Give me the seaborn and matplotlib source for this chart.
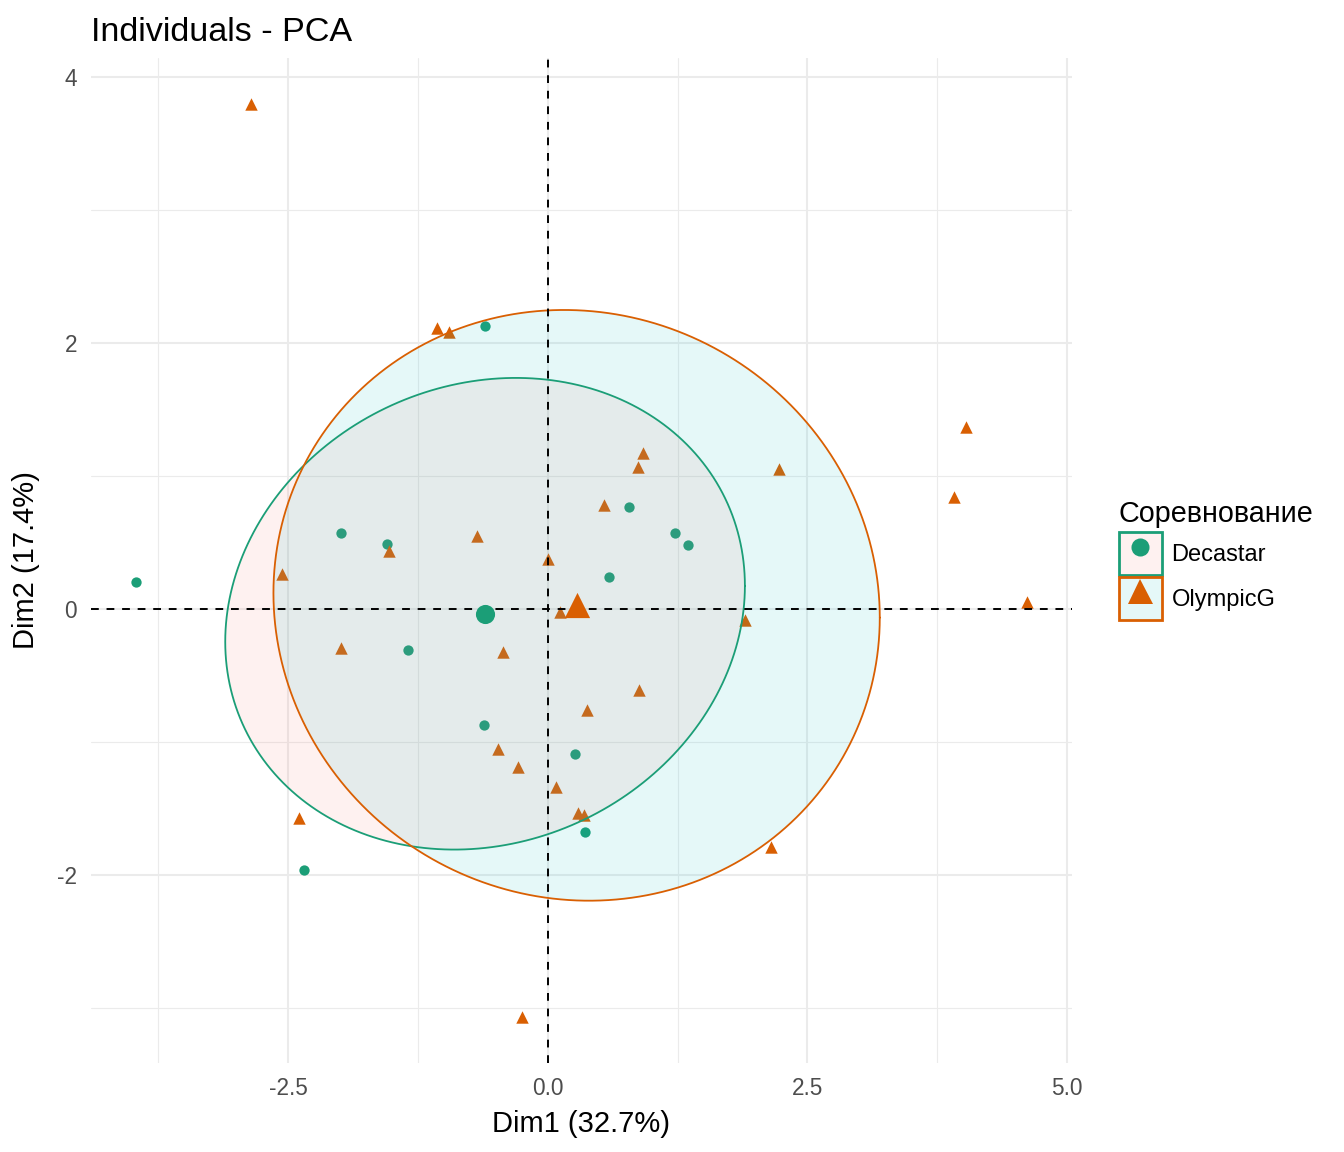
import numpy as np
import pandas as pd
import matplotlib
matplotlib.use('Agg')
import matplotlib.pyplot as plt
import seaborn as sns
from matplotlib.patches import Rectangle
from matplotlib.lines import Line2D
from matplotlib.legend_handler import HandlerTuple

# Координаты индивидов (Dim1, Dim2)
decastar_dim1 = [-3.97, -0.60, -1.99, -1.55, -1.35, -2.35, -0.61, 0.26, 0.36, 0.59, 0.78, 1.23, 1.35]
decastar_dim2 = [0.20, 2.13, 0.57, 0.49, -0.31, -1.96, -0.87, -1.09, -1.68, 0.24, 0.77, 0.57, 0.48]

olympic_dim1 = [-2.86, -1.07, -0.95, 4.03, 3.91, 2.23, 0.92, 0.87, 0.54, -0.68, 0.00, -1.53, -2.56, 4.62,
                1.90, 0.12, -1.99, -0.43, 0.88, 0.38, -0.48, -0.29, 0.08, 0.29, 0.35, -2.40, 2.15, -0.25]
olympic_dim2 = [3.80, 2.11, 2.08, 1.37, 0.84, 1.05, 1.17, 1.07, 0.78, 0.55, 0.38, 0.44, 0.26, 0.05,
                -0.08, -0.02, -0.29, -0.32, -0.61, -0.76, -1.05, -1.19, -1.34, -1.53, -1.55, -1.57, -1.79, -3.07]

groups = ['Decastar', 'OlympicG']
line_colors = {'Decastar': '#1B9E77', 'OlympicG': '#D95F02'}
fill_colors = {'Decastar': '#F8766D', 'OlympicG': '#00BFC4'}
markers = {'Decastar': 'o', 'OlympicG': '^'}
point_size = {'Decastar': 55, 'OlympicG': 80}
mean_size = {'Decastar': 190, 'OlympicG': 330}

df = pd.DataFrame({
    'Dim1': decastar_dim1 + olympic_dim1,
    'Dim2': decastar_dim2 + olympic_dim2,
    'Competition': ['Decastar'] * len(decastar_dim1) + ['OlympicG'] * len(olympic_dim1),
})


def norm_ellipse(x, y, level=0.68, segments=240):
    # как stat_ellipse(type = "norm")
    pts = np.column_stack([x, y])
    n = len(pts)
    center = pts.mean(axis=0)
    chol = np.linalg.cholesky(np.cov(pts, rowvar=False)).T
    d = n - 1
    fq = d / 2 * ((1 - level) ** (-2 / d) - 1)
    radius = np.sqrt(2 * fq)
    ang = np.linspace(0, 2 * np.pi, segments + 1)
    circle = np.column_stack([np.cos(ang), np.sin(ang)])
    return center + radius * circle @ chol


sns.set_theme(style='white')
plt.rcParams['font.family'] = ['Liberation Sans', 'DejaVu Sans']

W, H = 1344, 1152
fig = plt.figure(figsize=(W / 100, H / 100), dpi=100)
ax = fig.add_axes([91 / W, 1 - 1063 / H, (1072 - 91) / W, (1063 - 58) / H])

for g in groups:
    sub = df[df['Competition'] == g]
    sns.scatterplot(data=sub, x='Dim1', y='Dim2', color=line_colors[g], marker=markers[g],
                    s=point_size[g], linewidth=0, ax=ax, zorder=3, legend=False)

for g in groups:
    sub = df[df['Competition'] == g]
    e = norm_ellipse(sub['Dim1'].values, sub['Dim2'].values)
    ax.fill(e[:, 0], e[:, 1], color=fill_colors[g], alpha=0.1, lw=0, zorder=4)
    ax.plot(e[:, 0], e[:, 1], color=line_colors[g], lw=1.3, zorder=5)

ax.axhline(0, color='black', lw=1.4, ls=(0, (4, 4)), zorder=6)
ax.axvline(0, color='black', lw=1.4, ls=(0, (4, 4)), zorder=6)

means = df.groupby('Competition')[['Dim1', 'Dim2']].mean()
for g in groups:
    ax.scatter(means.loc[g, 'Dim1'], means.loc[g, 'Dim2'], color=line_colors[g],
               marker=markers[g], s=mean_size[g], linewidths=0, zorder=7)

# пределы осей: 5% расширение как в ggplot
xmin, xmax = df['Dim1'].min(), df['Dim1'].max()
ymin, ymax = df['Dim2'].min(), df['Dim2'].max()
ax.set_xlim(xmin - 0.05 * (xmax - xmin), xmax + 0.05 * (xmax - xmin))
ax.set_ylim(ymin - 0.05 * (ymax - ymin), ymax + 0.05 * (ymax - ymin))

ax.set_xticks([-2.5, 0.0, 2.5, 5.0])
ax.set_xticklabels(['-2.5', '0.0', '2.5', '5.0'])
ax.set_xticks([-3.75, -1.25, 1.25, 3.75], minor=True)
ax.set_yticks([-2, 0, 2, 4])
ax.set_yticklabels(['-2', '0', '2', '4'])
ax.set_yticks([-3, -1, 1, 3], minor=True)
ax.grid(which='major', color='#EBEBEB', lw=1.5)
ax.grid(which='minor', color='#EBEBEB', lw=0.8)
ax.set_axisbelow(True)
ax.tick_params(which='both', length=0, labelsize=16.3, labelcolor='#4D4D4D')
ax.tick_params(axis='x', pad=10)
ax.tick_params(axis='y', pad=10)
for s in ax.spines.values():
    s.set_visible(False)

ax.set_xlabel('Dim1 (32.7%)', fontsize=21, color='black', labelpad=7)
ax.set_ylabel('Dim2 (17.4%)', fontsize=21, color='black', labelpad=12)
ax.set_title('Individuals - PCA', loc='left', fontsize=24.6, color='black', pad=12)

handles = []
for g in groups:
    box = Rectangle((0, 0), 1, 1, facecolor=matplotlib.colors.to_rgba(fill_colors[g], 0.1),
                    edgecolor=line_colors[g], lw=2)
    mk = Line2D([], [], color=line_colors[g], marker=markers[g], ls='none',
                markersize=13 if g == 'Decastar' else 18, markeredgewidth=0)
    handles.append((box, mk))

leg = fig.legend(handles, groups, title='Соревнование', loc='upper left',
                 bbox_to_anchor=(1119 / W, 1 - 500 / H), bbox_transform=fig.transFigure,
                 frameon=False, fontsize=17, title_fontsize=20.7, handlelength=1.82, handleheight=2.42,
                 labelspacing=0.08, handletextpad=0.4, borderpad=0, borderaxespad=0,
                 alignment='left', labelcolor='black',
                 handler_map={tuple: HandlerTuple(ndivide=1, pad=0)})
leg.get_title().set_color('black')
leg._legend_box.sep = 3

fig.savefig('out.png', dpi=100)
